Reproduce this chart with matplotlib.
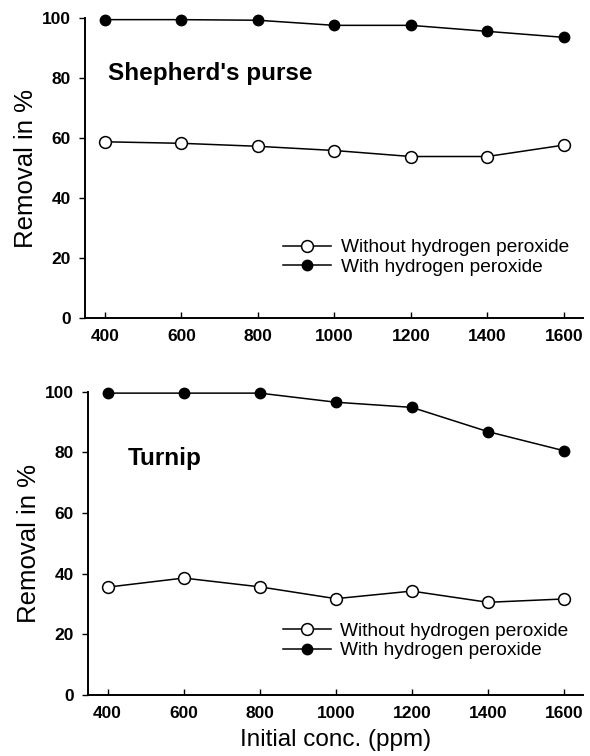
import numpy as np
from matplotlib import pyplot as plt

plt.rcParams['font.family'] = ['Liberation Sans', 'DejaVu Sans']

conc = [400, 600, 800, 1000, 1200, 1400, 1600]

# Shepherd's purse
purse_without = [58.8, 58.3, 57.3, 55.9, 53.9, 53.9, 57.7]
purse_with = [99.5, 99.5, 99.3, 97.6, 97.6, 95.6, 93.6]

# Turnip
turnip_without = [35.5, 38.5, 35.6, 31.7, 34.2, 30.5, 31.6]
turnip_with = [99.5, 99.5, 99.5, 96.5, 94.8, 86.8, 80.5]

x_ticks = [400, 600, 800, 1000, 1200, 1400, 1600]
y_ticks = [0, 20, 40, 60, 80, 100]

fig = plt.figure(figsize=(5.9, 7.56), dpi=100)
ax1 = fig.add_axes([0.144, 0.579, 0.844, 0.397])
ax2 = fig.add_axes([0.149, 0.081, 0.839, 0.401])

panels = [
    (ax1, purse_without, purse_with, "Shepherd's purse", (408, 81.5), (0.398, 0.203)),
    (ax2, turnip_without, turnip_with, 'Turnip', (452, 78), (0.394, 0.177)),
]

for ax, without, with_, name, txt_pos, leg_pos in panels:
    ax.plot(conc, without, '-o', color='black', lw=1.1, ms=8.5,
            mfc='white', mec='black', mew=1.1, clip_on=False,
            label='Without hydrogen peroxide')
    ax.plot(conc, with_, '-o', color='black', lw=1.1, ms=7.5,
            mfc='black', mec='black', clip_on=False,
            label='With hydrogen peroxide')

    ax.set_xlim(348, 1650)
    ax.set_ylim(0, 100)
    ax.set_xticks(x_ticks)
    ax.set_yticks(y_ticks)
    ax.tick_params(axis='x', direction='in', length=4, width=1, labelsize=12.5, pad=8)
    ax.tick_params(axis='y', direction='out', length=4, width=1, labelsize=12.5, pad=6)
    for lbl in ax.get_xticklabels() + ax.get_yticklabels():
        lbl.set_fontweight('bold')

    ax.spines['top'].set_visible(False)
    ax.spines['right'].set_visible(False)
    ax.spines['left'].set_linewidth(1.4)
    ax.spines['bottom'].set_linewidth(1.4)

    ax.set_ylabel('Removal in %', fontsize=18.5, labelpad=3)
    ax.text(txt_pos[0], txt_pos[1], name, fontsize=17.5, fontweight='bold',
            ha='left', va='center')
    ax.legend(loc='center left', bbox_to_anchor=leg_pos, frameon=False,
              fontsize=13.8, handlelength=2.5, handletextpad=0.5,
              labelspacing=0.1, borderpad=0, borderaxespad=0)

ax2.set_xlabel('Initial conc. (ppm)', fontsize=17.5, labelpad=6)

fig.savefig('out.png', dpi=100)
